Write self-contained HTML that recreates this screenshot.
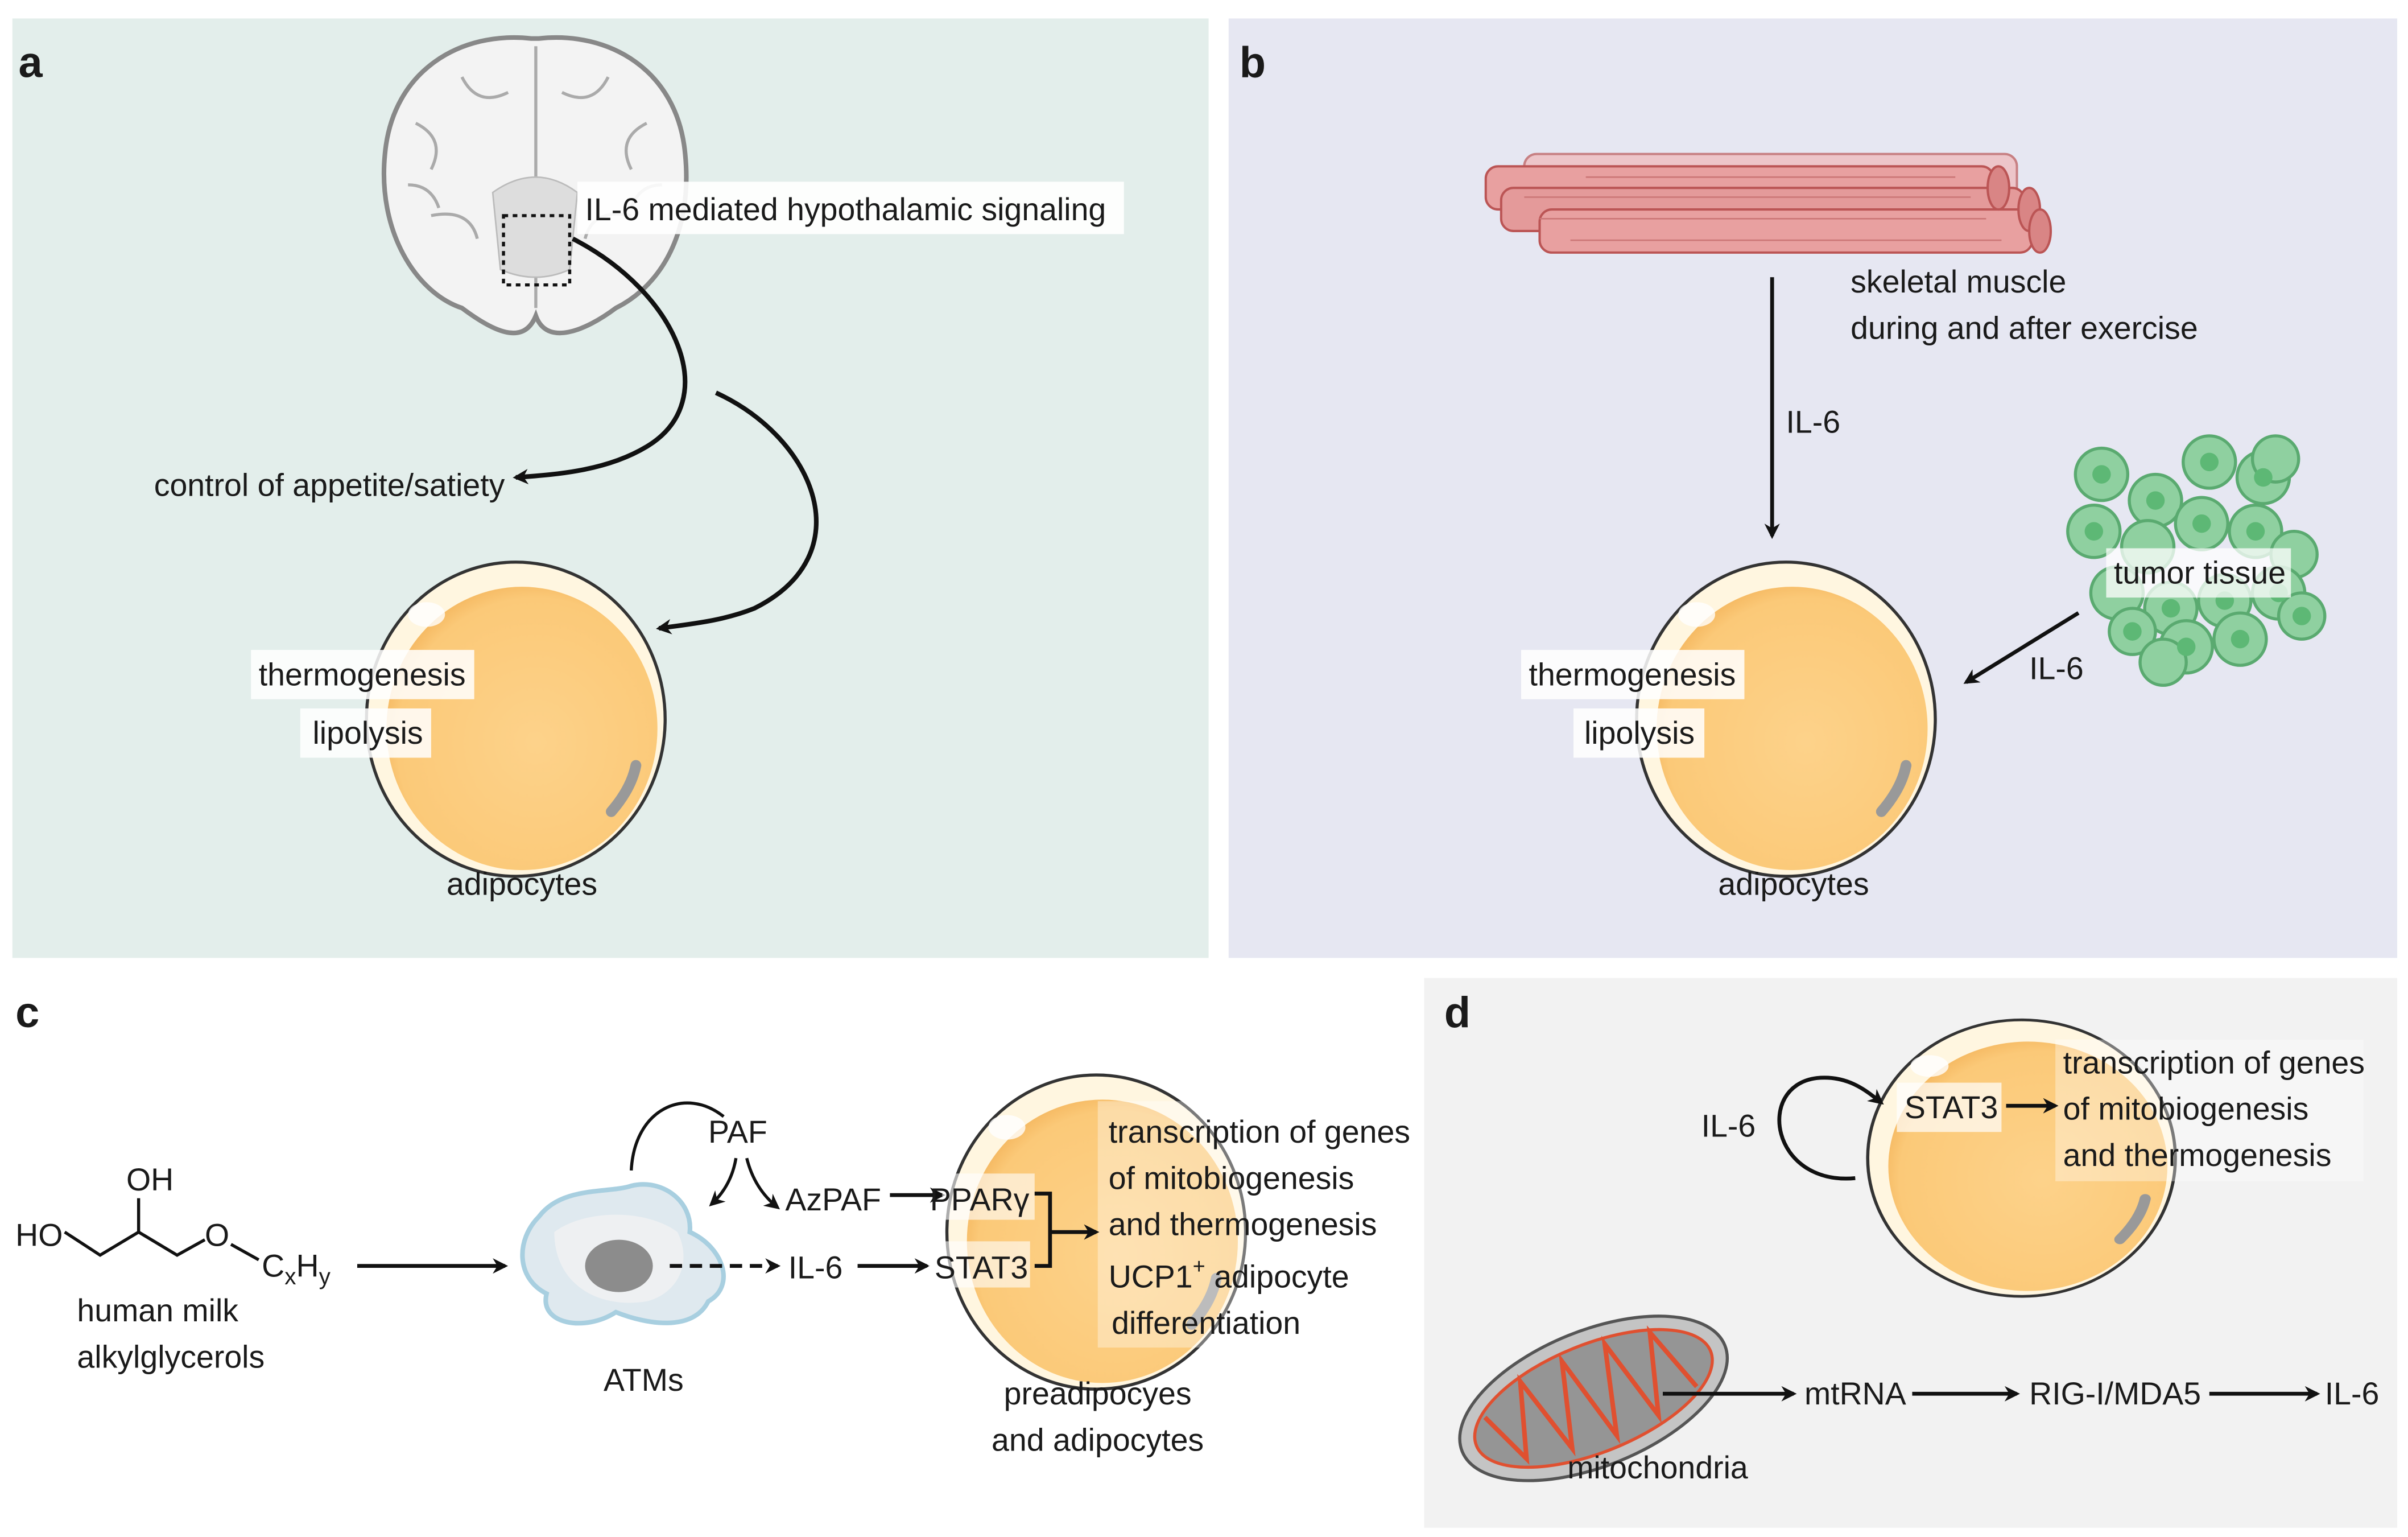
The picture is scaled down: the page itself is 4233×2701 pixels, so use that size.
<!DOCTYPE html>
<html><head><meta charset="utf-8"><style>
html,body{margin:0;padding:0;background:#fff}
svg{display:block}
text{font-family:"Liberation Sans",Arial,sans-serif;font-size:20.5px;fill:#1a1a1a}
.lb{font-weight:bold;font-size:28px}
</style></head><body>
<svg width="4233" height="2701" viewBox="0 0 1564 998" xmlns="http://www.w3.org/2000/svg">
<defs>
<marker id="ah" markerWidth="10" markerHeight="10" refX="8" refY="5" orient="auto" markerUnits="userSpaceOnUse"><path d="M0,0 L10,5 L0,10 L3,5z" fill="#111"/></marker>
<radialGradient id="fat" cx="0.55" cy="0.55" r="0.6"><stop offset="0" stop-color="#fdd28a"/><stop offset="0.85" stop-color="#fbc978"/><stop offset="1" stop-color="#f3b35a"/></radialGradient>
<g id="adipo">
<ellipse cx="0" cy="0" rx="97" ry="102" fill="#fff6e0" stroke="#333" stroke-width="2"/>
<ellipse cx="4" cy="6" rx="88" ry="92" fill="url(#fat)"/>
<ellipse cx="-58" cy="-68" rx="12" ry="8" fill="#fff" opacity="0.8"/>
<path d="M62,60 Q75,45 78,30" stroke="#999" stroke-width="7" fill="none" stroke-linecap="round"/>
</g>
</defs>
<rect x="8" y="12" width="777" height="610" fill="#e3eeeb"/>
<rect x="798" y="12" width="759" height="610" fill="#e6e7f2"/>
<rect x="925" y="635" width="632" height="357" fill="#f2f2f2"/>
<text x="12" y="50" class="lb">a</text>
<text x="805" y="50" class="lb">b</text>
<text x="10" y="667" class="lb">c</text>
<text x="938" y="667" class="lb">d</text>

<g stroke="#888" stroke-width="3" fill="#f3f3f3">
<path d="M345,25 C300,20 255,45 250,100 C245,150 270,190 300,200 C320,215 340,225 348,205 C355,225 380,215 400,200 C430,185 450,150 445,100 C440,45 395,20 350,25 Z"/>
</g>
<g stroke="#aaa" stroke-width="2" fill="none">
<path d="M348,30 L348,200"/><path d="M270,80 q20,10 10,30 M280,140 q25,-5 30,15 M420,80 q-20,10 -10,30 M410,140 q-25,-5 -30,15 M300,50 q10,20 30,10 M395,50 q-10,20 -30,10 M265,120 q15,0 20,15 M430,120 q-15,0 -20,15"/>
</g>
<path d="M320,125 q28,-20 55,0 l-5,50 q-22,10 -45,0z" fill="#ddd" stroke="#bbb"/>
<rect x="327" y="140" width="43" height="45" fill="none" stroke="#111" stroke-width="2" stroke-dasharray="3,3"/>
<rect x="375" y="118" width="355" height="34" fill="#fff" opacity="0.9"/>
<text x="380" y="143">IL-6 mediated hypothalamic signaling</text>
<path d="M372,155 C440,190 470,260 420,290 C395,305 365,308 335,310" fill="none" stroke="#111" stroke-width="3" marker-end="url(#ah)"/>
<path d="M465,255 C530,285 560,360 490,395 C470,403 450,405 428,408" fill="none" stroke="#111" stroke-width="3" marker-end="url(#ah)"/>
<text x="100" y="322">control of appetite/satiety</text>
<use href="#adipo" x="335" y="467"/>
<rect x="163" y="422" width="145" height="32" fill="#fff" opacity="0.85"/>
<text x="168" y="445">thermogenesis</text>
<rect x="195" y="460" width="85" height="32" fill="#fff" opacity="0.85"/>
<text x="203" y="483">lipolysis</text>
<text x="290" y="581">adipocytes</text>

<g stroke="#b55" stroke-width="1.5">
<rect x="990" y="100" width="320" height="30" rx="8" fill="#f0b8b8" opacity="0.7"/>
<rect x="965" y="108" width="330" height="28" rx="8" fill="#e8a0a0"/>
<rect x="975" y="122" width="340" height="28" rx="8" fill="#e49a9a"/>
<rect x="1000" y="136" width="320" height="28" rx="8" fill="#e8a0a0"/>
<ellipse cx="1298" cy="122" rx="7" ry="14" fill="#d98585"/>
<ellipse cx="1318" cy="136" rx="7" ry="14" fill="#d98585"/>
<ellipse cx="1325" cy="150" rx="7" ry="14" fill="#d98585"/>
</g>
<g stroke="#c77" stroke-width="1"><path d="M990,128 H1280 M1000,142 H1290 M1020,156 H1300 M1030,115 H1270"/></g>
<text x="1202" y="190">skeletal muscle</text>
<text x="1202" y="220">during and after exercise</text>
<line x1="1151" y1="180" x2="1151" y2="348" stroke="#111" stroke-width="2.5" marker-end="url(#ah)"/>
<text x="1160" y="281">IL-6</text>
<use href="#adipo" x="1160" y="467"/>
<rect x="988" y="422" width="145" height="32" fill="#fff" opacity="0.85"/>
<text x="993" y="445">thermogenesis</text>
<rect x="1022" y="460" width="85" height="32" fill="#fff" opacity="0.85"/>
<text x="1029" y="483">lipolysis</text>
<text x="1116" y="581">adipocytes</text>
<g fill="#8fd0a0" stroke="#5aaa70" stroke-width="2">
<circle cx="1365" cy="308" r="17"/><circle cx="1400" cy="325" r="17"/><circle cx="1435" cy="300" r="17"/><circle cx="1470" cy="310" r="17"/><circle cx="1478" cy="298" r="15"/>
<circle cx="1360" cy="345" r="17"/><circle cx="1395" cy="355" r="17"/><circle cx="1430" cy="340" r="17"/><circle cx="1465" cy="345" r="17"/><circle cx="1490" cy="360" r="15"/>
<circle cx="1375" cy="385" r="17"/><circle cx="1410" cy="395" r="17"/><circle cx="1445" cy="390" r="17"/><circle cx="1480" cy="385" r="17"/>
<circle cx="1385" cy="410" r="15"/><circle cx="1420" cy="420" r="17"/><circle cx="1455" cy="415" r="17"/><circle cx="1495" cy="400" r="15"/><circle cx="1405" cy="430" r="15"/>
</g>
<g fill="#5db875"><circle cx="1365" cy="308" r="6"/><circle cx="1435" cy="300" r="6"/><circle cx="1470" cy="310" r="6"/><circle cx="1400" cy="325" r="6"/><circle cx="1360" cy="345" r="6"/><circle cx="1430" cy="340" r="6"/><circle cx="1465" cy="345" r="6"/><circle cx="1410" cy="395" r="6"/><circle cx="1445" cy="390" r="6"/><circle cx="1480" cy="385" r="6"/><circle cx="1420" cy="420" r="6"/><circle cx="1455" cy="415" r="6"/><circle cx="1495" cy="400" r="6"/><circle cx="1385" cy="410" r="6"/></g>
<rect x="1368" y="356" width="120" height="32" fill="#fff" opacity="0.75"/>
<text x="1373" y="379">tumor tissue</text>
<line x1="1350" y1="398" x2="1277" y2="443" stroke="#111" stroke-width="2.5" marker-end="url(#ah)"/>
<text x="1318" y="441">IL-6</text>

<g stroke="#111" stroke-width="2" fill="none">
<path d="M42,800 L65,815 L90,800 L115,815 L133,805"/><path d="M90,800 L90,778"/><path d="M150,808 L168,818"/>
</g>
<text x="10" y="809">HO</text>
<text x="82" y="773">OH</text>
<text x="133" y="809">O</text>
<text x="170" y="829">C<tspan font-size="15" dy="5">x</tspan><tspan dy="-5">H</tspan><tspan font-size="15" dy="5">y</tspan></text>
<text x="50" y="858">human milk</text>
<text x="50" y="888">alkylglycerols</text>
<line x1="232" y1="822" x2="328" y2="822" stroke="#111" stroke-width="2.5" marker-end="url(#ah)"/>
<path d="M350,790 C365,770 395,775 410,770 C430,765 450,780 448,800 C470,810 478,835 460,845 C450,865 420,860 400,852 C380,865 350,860 355,840 C335,830 335,805 350,790Z" fill="#dfe9ef" stroke="#a8cfe0" stroke-width="3"/>
<path d="M360,800 C380,785 420,785 440,800 C450,820 440,840 420,845 C390,850 360,835 360,800Z" fill="#eef0f2"/>
<ellipse cx="402" cy="822" rx="22" ry="17" fill="#8c8c8c"/>
<text x="392" y="903">ATMs</text>
<path d="M410,760 C412,720 445,705 470,725" fill="none" stroke="#111" stroke-width="2"/>
<text x="460" y="742">PAF</text>
<path d="M478,752 Q475,770 462,782" fill="none" stroke="#111" stroke-width="2" marker-end="url(#ah)"/>
<path d="M485,752 Q490,772 505,784" fill="none" stroke="#111" stroke-width="2" marker-end="url(#ah)"/>
<text x="510" y="786">AzPAF</text>
<line x1="578" y1="776" x2="612" y2="776" stroke="#111" stroke-width="2.5" marker-end="url(#ah)"/>
<line x1="435" y1="822" x2="505" y2="822" stroke="#111" stroke-width="2.5" stroke-dasharray="8,5" marker-end="url(#ah)"/>
<text x="512" y="830">IL-6</text>
<line x1="557" y1="822" x2="602" y2="822" stroke="#111" stroke-width="2.5" marker-end="url(#ah)"/>
<use href="#adipo" x="712" y="800"/>
<rect x="713" y="715" width="200" height="160" fill="#fff" opacity="0.35"/>
<rect x="612" y="762" width="60" height="30" fill="#fff" opacity="0.6"/>
<text x="604" y="786">PPARγ</text>
<rect x="603" y="806" width="66" height="30" fill="#fff" opacity="0.6"/>
<text x="607" y="830">STAT3</text>
<path d="M672,775 H682 V822 H672 M682,800 H712" fill="none" stroke="#111" stroke-width="2.5" marker-end="url(#ah)"/>
<text x="720" y="742">transcription of genes</text>
<text x="720" y="772">of mitobiogenesis</text>
<text x="720" y="802">and thermogenesis</text>
<text x="720" y="836">UCP1<tspan font-size="14" dy="-9">+</tspan><tspan dy="9"> adipocyte</tspan></text>
<text x="722" y="866">differentiation</text>
<text x="652" y="912">preadipocyes</text>
<text x="644" y="942">and adipocytes</text>

<g transform="translate(1313,752) scale(1.03,0.88)"><use href="#adipo"/></g>
<rect x="1335" y="675" width="200" height="92" fill="#fff" opacity="0.35"/>
<rect x="1232" y="703" width="68" height="32" fill="#fff" opacity="0.7"/>
<text x="1237" y="726">STAT3</text>
<line x1="1303" y1="718" x2="1335" y2="718" stroke="#111" stroke-width="2.5" marker-end="url(#ah)"/>
<text x="1340" y="697">transcription of genes</text>
<text x="1340" y="727">of mitobiogenesis</text>
<text x="1340" y="757">and thermogenesis</text>
<text x="1105" y="738">IL-6</text>
<path d="M1205,765 C1150,770 1140,705 1180,700 C1200,698 1212,708 1222,716" fill="none" stroke="#111" stroke-width="2.5" marker-end="url(#ah)"/>
<g transform="translate(1035,908) rotate(-22)">
<ellipse rx="92" ry="44" fill="#c4c4c4" stroke="#555" stroke-width="2"/>
<ellipse rx="82" ry="35" fill="#959595" stroke="#e05030" stroke-width="2"/>
<path d="M-70,-15 L-55,20 L-40,-28 L-25,25 L-10,-30 L5,28 L20,-30 L35,26 L50,-26 L65,18" fill="none" stroke="#e05030" stroke-width="3"/>
</g>
<text x="1018" y="960">mitochondria</text>
<line x1="1080" y1="905" x2="1165" y2="905" stroke="#111" stroke-width="2.5" marker-end="url(#ah)"/>
<text x="1172" y="912">mtRNA</text>
<line x1="1242" y1="905" x2="1310" y2="905" stroke="#111" stroke-width="2.5" marker-end="url(#ah)"/>
<text x="1318" y="912">RIG-I/MDA5</text>
<line x1="1435" y1="905" x2="1505" y2="905" stroke="#111" stroke-width="2.5" marker-end="url(#ah)"/>
<text x="1510" y="912">IL-6</text>
</svg>
</body></html>
